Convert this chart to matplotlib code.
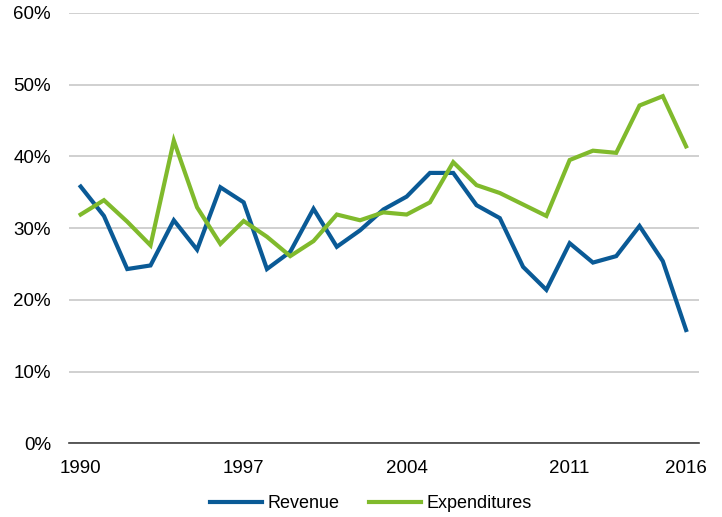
import matplotlib
matplotlib.use("Agg")
import matplotlib.pyplot as plt
from matplotlib import font_manager as fm
from matplotlib.ticker import FuncFormatter

years = list(range(1990, 2017))
revenue = [35.8, 31.7, 24.3, 24.8, 31.1, 27.0, 35.7, 33.6, 24.3, 26.7,
           32.7, 27.4, 29.7, 32.6, 34.4, 37.7, 37.7, 33.2, 31.4, 24.6,
           21.4, 27.9, 25.2, 26.1, 30.3, 25.4, 15.8]
expenditures = [31.9, 33.9, 30.9, 27.6, 42.2, 32.9, 27.8, 31.0, 28.8, 26.1,
                28.2, 31.9, 31.1, 32.2, 31.9, 33.6, 39.2, 36.0, 34.9, 33.3,
                31.7, 39.5, 40.8, 40.5, 47.1, 48.4, 41.4]
x_ticks = [1990, 1997, 2004, 2011, 2016]
y_ticks = [0, 10, 20, 30, 40, 50, 60]

names = {f.name for f in fm.fontManager.ttflist}
fam = [f for f in ["Liberation Sans Narrow", "Liberation Sans", "DejaVu Sans"] if f in names]
plt.rcParams['font.family'] = fam

fig = plt.figure(figsize=(7.22, 5.17), dpi=100)
ax = fig.add_axes([0.0956, 0.1425, 0.8724, 0.8324])

ax.plot(years, revenue, color="#0A5A96", lw=3.0, label="Revenue", solid_joinstyle="miter")
ax.plot(years, expenditures, color="#80BA2C", lw=3.0, label="Expenditures", solid_joinstyle="miter")

ax.set_xlim(1989.5, 2016.55)
ax.set_ylim(0, 60)
ax.set_yticks(y_ticks)
ax.yaxis.set_major_formatter(FuncFormatter(lambda v, p: f"{int(v)}%"))
ax.set_xticks(x_ticks)
ax.set_xticklabels([str(t) for t in x_ticks])

ax.grid(axis="y", color="#C8C8C8", lw=1.2)
ax.set_axisbelow(True)
for s in ["top", "right", "left"]:
    ax.spines[s].set_visible(False)
ax.spines["bottom"].set_color("#404040")
ax.spines["bottom"].set_linewidth(1.2)
ax.tick_params(axis="both", length=0, labelsize=13.5, colors="black")
ax.tick_params(axis="y", pad=13)
ax.tick_params(axis="x", pad=12)

leg = ax.legend(loc="upper center", bbox_to_anchor=(0.479, -0.082), ncol=2,
                frameon=False, fontsize=13, handlelength=2.9,
                handletextpad=0.3, columnspacing=1.6)

fig.savefig("out.png", dpi=100)
